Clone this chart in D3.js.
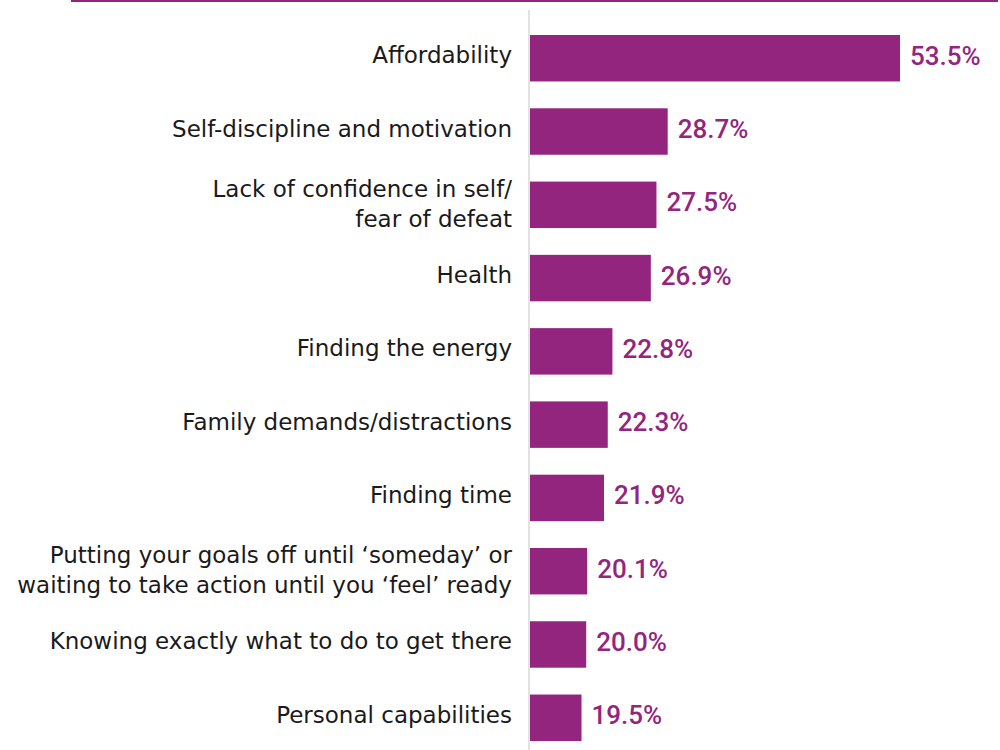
<!DOCTYPE html>
<html>
<head>
<meta charset="utf-8">
<script src="https://cdn.jsdelivr.net/npm/d3@7"></script>
<style>
  body { margin: 0; background: #fff; }
  svg { display: block; }
</style>
</head>
<body>
<script>
const width = 1000;
const height = 750;

// barriers, largest first
const categories = [
  'Affordability',
  'Self-discipline and motivation',
  'Lack of confidence in self/\nfear of defeat',
  'Health',
  'Finding the energy',
  'Family demands/distractions',
  'Finding time',
  'Putting your goals off until \u2018someday\u2019 or\nwaiting to take action until you \u2018feel\u2019 ready',
  'Knowing exactly what to do to get there',
  'Personal capabilities'
];
const values = [53.5, 28.7, 27.5, 26.9, 22.8, 22.3, 21.9, 20.1, 20.0, 19.5];
const xDomain = [14, 53.5];

const purple = '#93257f';

const svg = d3.select('body').append('svg')
  .attr('width', width)
  .attr('height', height);

const x = d3.scaleLinear()
  .domain(xDomain)
  .range([530, 900]);

const y = d3.scaleBand()
  .domain(categories)
  .range([21.6, 754.4])
  .paddingInner(0.366)
  .paddingOuter(0.183);

// top rule
svg.append('line')
  .attr('x1', 71).attr('x2', 998)
  .attr('y1', 1).attr('y2', 1)
  .attr('stroke', purple)
  .attr('stroke-width', 2);

const rows = svg.append('g')
  .selectAll('g')
  .data(categories)
  .enter().append('g');

rows.append('rect')
  .attr('x', x(xDomain[0]))
  .attr('y', d => y(d))
  .attr('width', (d, i) => x(values[i]) - x(xDomain[0]))
  .attr('height', y.bandwidth())
  .attr('fill', purple);

rows.append('text')
  .attr('x', (d, i) => x(values[i]) + 10)
  .attr('y', d => y(d) + y.bandwidth() / 2 + 6.5)
  .attr('fill', purple)
  .style('font-family', 'Roboto, sans-serif')
  .style('font-size', '26px')
  .style('font-weight', 500)
  .text((d, i) => values[i].toFixed(1) + '%');

// category labels, split on newline
rows.append('text')
  .attr('text-anchor', 'end')
  .attr('fill', '#1a1a1a')
  .style('font-family', '"DejaVu Sans", sans-serif')
  .style('font-size', '23px')
  .each(function (d) {
    const lines = d.split('\n');
    const cy = y(d) + y.bandwidth() / 2;
    const first = lines.length > 1 ? cy - 8 : cy + 5;
    d3.select(this).selectAll('tspan')
      .data(lines)
      .enter().append('tspan')
      .attr('x', 512)
      .attr('y', (l, j) => first + j * 30)
      .text(l => l);
  });

// axis line
svg.append('line')
  .attr('x1', 529).attr('x2', 529)
  .attr('y1', 10).attr('y2', height)
  .attr('stroke', '#d9d9d9')
  .attr('stroke-width', 1.5);
</script>
</body>
</html>
